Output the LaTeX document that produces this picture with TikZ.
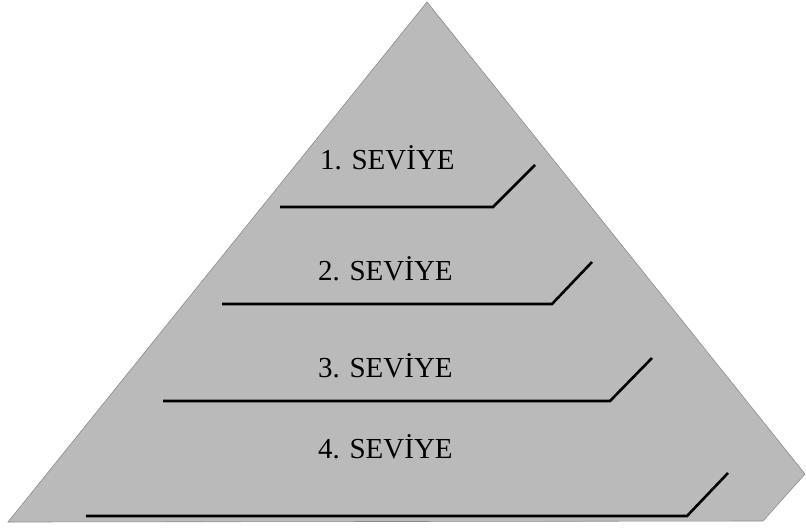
\documentclass[tikz,border=0pt]{standalone}
\usepackage{fontspec}
\setmainfont{Liberation Serif}
\begin{document}
\begin{tikzpicture}[x=1pt,y=-1pt,
  levelline/.style={line width=2.6pt,black,line join=miter},
  levellabel/.style={anchor=base west,inner sep=0pt,font=\fontsize{29}{32}\selectfont}]
\useasboundingbox (0,0) rectangle (806,528);
% pyramid body
\coordinate (apex) at (427,2);
\coordinate (rt) at (805,474);
\coordinate (rb) at (763,521);
\coordinate (lb) at (8,522);
\fill[black!27,draw=black!45,line width=0.6pt] (apex) -- (rt) -- (rb) -- (lb) -- cycle;
% level lines
\coordinate (a1) at (280,207); \coordinate (b1) at (493,207); \coordinate (c1) at (535,165);
\coordinate (a2) at (222,304); \coordinate (b2) at (552,304); \coordinate (c2) at (592,262);
\coordinate (a3) at (163,401); \coordinate (b3) at (610,401); \coordinate (c3) at (652,358);
\coordinate (a4) at (86,516);  \coordinate (b4) at (687,516); \coordinate (c4) at (728,473);
\draw[levelline] (a1) -- (b1) -- (c1);
\draw[levelline] (a2) -- (b2) -- (c2);
\draw[levelline] (a3) -- (b3) -- (c3);
\draw[levelline] (a4) -- (b4) -- (c4);
% labels
\node[levellabel] (l1) at (320,169) {1. SEVİYE};
\node[levellabel] (l2) at (318,280) {2. SEVİYE};
\node[levellabel] (l3) at (318,377) {3. SEVİYE};
\node[levellabel] (l4) at (318,458) {4. SEVİYE};
\end{tikzpicture}
\end{document}
